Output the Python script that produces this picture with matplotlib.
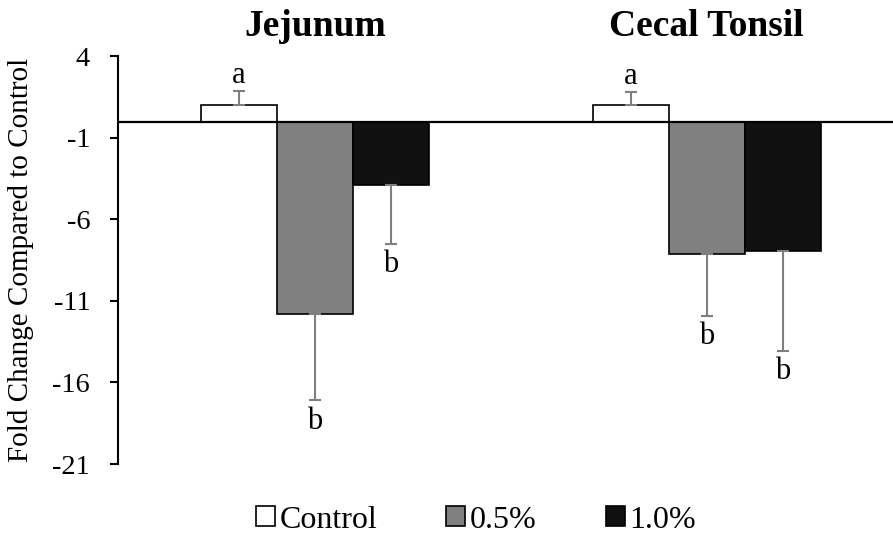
import numpy as np
import matplotlib.pyplot as plt
from matplotlib.patches import Patch

plt.rcParams['font.family'] = ['Liberation Serif', 'DejaVu Serif']
plt.rcParams['axes.unicode_minus'] = False

# data
tissues = ['Jejunum', 'Cecal Tonsil']
treatments = ['Control', '0.5%', '1.0%']
colors = ['white', '#808080', '#111111']
means = {
    'Control': [1.0, 1.0],
    '0.5%': [-11.8, -8.1],
    '1.0%': [-3.9, -7.95],
}
errors = {
    'Control': [0.85, 0.8],
    '0.5%': [5.3, 3.8],
    '1.0%': [3.6, 6.1],
}
letters = {
    'Control': ['a', 'a'],
    '0.5%': ['b', 'b'],
    '1.0%': ['b', 'b'],
}
yticks = [4, -1, -6, -11, -16, -21]

fig = plt.figure(figsize=(8.93, 5.4), dpi=100)
ax = fig.add_axes([0.1321, 0.1407, 0.8679, 0.755])

x = np.arange(len(tissues))
width = 0.194
offsets = [-width, 0, width]

for trt, col, off in zip(treatments, colors, offsets):
    vals = np.array(means[trt])
    errs = np.array(errors[trt])
    ax.bar(x + off, vals, width=width, color=col, edgecolor='black',
           linewidth=1.2, zorder=2)
    # one-sided error bars, away from zero
    lower = np.where(vals < 0, errs, 0)
    upper = np.where(vals > 0, errs, 0)
    ax.errorbar(x + off, vals, yerr=[lower, upper], fmt='none',
                ecolor='#7f7f7f', elinewidth=1.5, capsize=4, capthick=1.5,
                zorder=3)
    for xi, v, e, lab in zip(x + off, vals, errs, letters[trt]):
        if v > 0:
            ax.annotate(lab, (xi, v + e), xytext=(0, 6), textcoords='offset points',
                        ha='center', va='baseline', fontsize=22)
        else:
            ax.annotate(lab, (xi, v - e), xytext=(0, -4.5), textcoords='offset points',
                        ha='center', va='top', fontsize=22)

ax.axhline(0, color='black', linewidth=1.6, zorder=4)

ax.set_ylim(-21, 4)
ax.set_xlim(-0.503, 1.476)
ax.set_yticks(yticks)
ax.tick_params(axis='y', direction='out', length=6, width=1.5, pad=14, labelsize=20.5)
ax.set_xticks([])
for side in ['top', 'right', 'bottom']:
    ax.spines[side].set_visible(False)
ax.spines['left'].set_linewidth(1.5)

ax.set_ylabel('Fold Change Compared to Control', fontsize=21)
ax.yaxis.set_label_coords(-0.108, 0.5)

for xi, name in zip(x, tissues):
    fig.text((118 + 775 * (xi + 0.503) / 1.979) / 893, 1 - 27 / 540, name,
             ha='center', va='center', fontsize=27, fontweight='bold')

handles = [Patch(facecolor=c, edgecolor='black', linewidth=1.2) for c in colors]
fig.legend(handles, treatments, loc='center', bbox_to_anchor=(0.533, 0.037),
           ncol=3, frameon=False, fontsize=23, handlelength=0.6, handleheight=0.6,
           handletextpad=0.15, columnspacing=2.15)

fig.savefig('out.png', dpi=100)
